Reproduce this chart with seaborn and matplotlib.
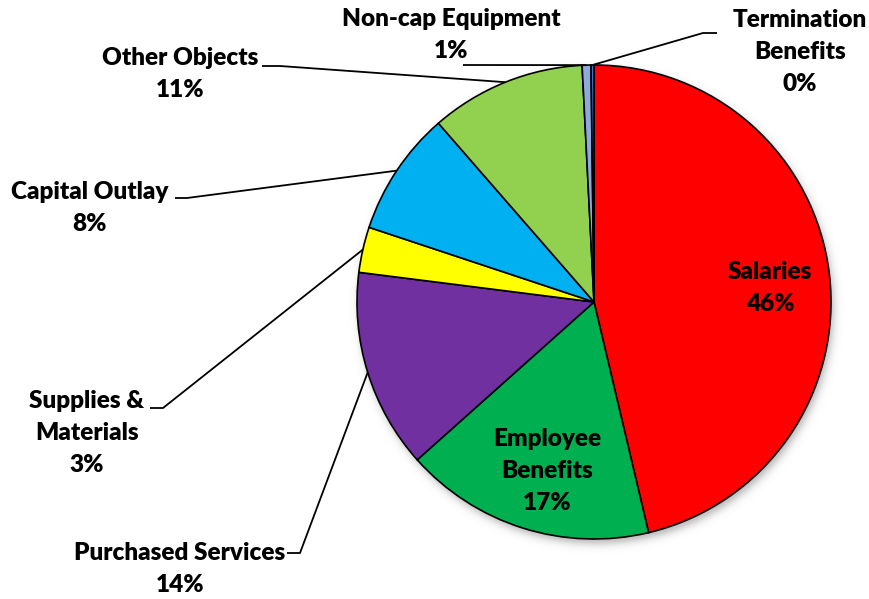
import numpy as np
import matplotlib
matplotlib.use("Agg")
import matplotlib.pyplot as plt
import seaborn as sns

# Expenditure shares by object (percent)
categories = ["Salaries", "Employee\nBenefits", "Purchased Services", "Supplies &\nMaterials",
              "Capital Outlay", "Other Objects", "Non-cap Equipment", "Termination\nBenefits"]
shares = [46.3, 17.1, 13.6, 3.1, 8.5, 10.6, 0.6, 0.2]
pct_labels = ["46%", "17%", "14%", "3%", "8%", "11%", "1%", "0%"]
colors = ["#FF0000", "#00B050", "#7030A0", "#FFFF00", "#00B0F0", "#92D050", "#8EA9DB", "#4472C4"]

sns.set_theme(style="white")
plt.rcParams["font.family"] = ["Lato", "DejaVu Sans"]

W, H = 870, 599
fig = plt.figure(figsize=(W / 100, H / 100), dpi=100)
ax = fig.add_axes([0, 0, 1, 1])
ax.set_xlim(0, W)
ax.set_ylim(0, H)
ax.set_aspect("equal")
ax.axis("off")

cx, cy, R = 594, H - 302, 237

# soft drop shadow under the pie
yy, xx = np.mgrid[0:H, 0:W]
d = np.hypot(xx - (cx + 2), (H - 1 - yy) - (cy - 5))
alpha = 0.45 / (1 + np.exp((d - R) / 2.5))
shadow = np.zeros((H, W, 4))
shadow[..., :3] = 0.35
shadow[..., 3] = alpha
ax.imshow(shadow, extent=(0, W, 0, H), origin="upper", zorder=0, interpolation="bilinear")

wedges, _ = ax.pie(shares, colors=sns.color_palette(colors), startangle=90, counterclock=False,
                   center=(cx, cy), radius=R, frame=True,
                   wedgeprops=dict(edgecolor="black", linewidth=1.2, zorder=2))
ax.set_xlim(0, W)
ax.set_ylim(0, H)
ax.axis("off")

fs = 17.5
ls = 1.55
txt = dict(fontsize=fs, fontweight="heavy", color="black", ha="center", va="center",
           linespacing=ls, zorder=5)

# label centre positions (pixels from top-left)
label_pos = [(770, 288), (547, 471), (180, 569), (87, 433),
             (90, 208), (180, 74), (451, 35), (800, 52)]
for name, pct, (px, py) in zip(categories, pct_labels, label_pos):
    ax.text(px, H - py, f"{name}\n{pct}", **txt)


def edge_point(w):
    mid = np.deg2rad((w.theta1 + w.theta2) / 2)
    return cx + R * np.cos(mid), cy + R * np.sin(mid)


# leader lines: (wedge index, [points from label side], pixel coordinates)
leaders = {
    2: [(287, 553), (300, 553)],
    3: [(150, 408), (163, 408)],
    4: [(175, 198), (187, 198)],
    5: [(262, 66), (280, 66)],
    6: [(463, 65)],
    7: [(717, 33), (703, 33)],
}
for i, pts in leaders.items():
    ex, ey = edge_point(wedges[i])
    xs = [p[0] for p in pts] + [ex]
    ys = [H - p[1] for p in pts] + [ey]
    ax.plot(xs, ys, color="black", linewidth=1.3, zorder=4, solid_capstyle="butt")

fig.savefig("out.png", dpi=100)
